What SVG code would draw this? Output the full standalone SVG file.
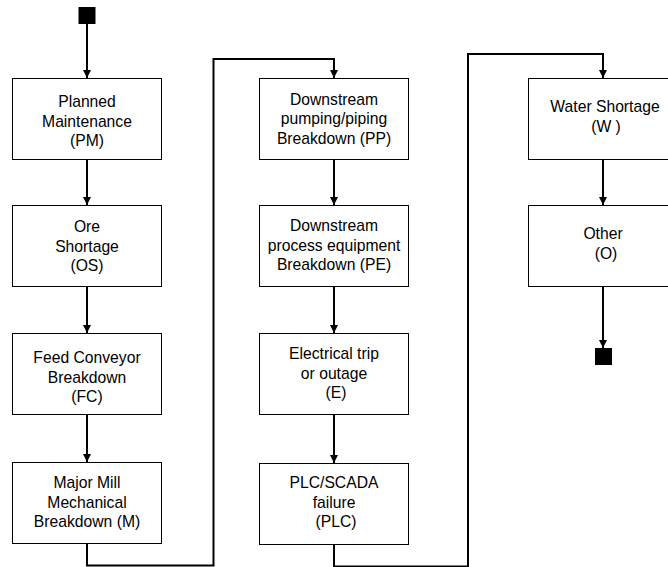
<svg xmlns="http://www.w3.org/2000/svg" width="668" height="567" viewBox="0 0 668 567">
<defs>
<style>
.box{fill:#fff;stroke:#000;stroke-width:1}
.t{font-family:"Liberation Sans",Arial,sans-serif;font-size:15.7px;fill:#000;text-anchor:middle}
.c{fill:none;stroke:#000;stroke-width:2}
</style>
<marker id="ah" viewBox="0 0 8 8" refX="8" refY="4" markerWidth="8" markerHeight="8" markerUnits="userSpaceOnUse" orient="auto">
<path d="M0,0 L8,4 L0,8 Z" fill="#000"/>
</marker>
</defs>
<rect width="668" height="567" fill="#fff"/>
<g id="connectors">
<rect x="78.5" y="7" width="17" height="17" fill="#000"/>
<line class="c" x1="87" y1="24" x2="87" y2="78" marker-end="url(#ah)"/>
<line class="c" x1="87" y1="159" x2="87" y2="205" marker-end="url(#ah)"/>
<line class="c" x1="87" y1="286" x2="87" y2="333" marker-end="url(#ah)"/>
<line class="c" x1="87" y1="414" x2="87" y2="462" marker-end="url(#ah)"/>
<polyline class="c" points="87,543 87,565.5 213.5,565.5 213.5,59 334,59 334,78" marker-end="url(#ah)"/>
<line class="c" x1="334" y1="159" x2="334" y2="205" marker-end="url(#ah)"/>
<line class="c" x1="334" y1="286" x2="334" y2="333" marker-end="url(#ah)"/>
<line class="c" x1="334" y1="414" x2="334" y2="463" marker-end="url(#ah)"/>
<polyline class="c" points="334,544 334,566.5 468,566.5 468,54 603,54 603,78" marker-end="url(#ah)"/>
<line class="c" x1="603" y1="159" x2="603" y2="205" marker-end="url(#ah)"/>
<line class="c" x1="603" y1="286" x2="603" y2="348" marker-end="url(#ah)"/>
<rect x="595" y="348" width="17" height="17" fill="#000"/>
</g>
<g id="PM"><rect class="box" x="12.5" y="78.5" width="149" height="81"/>
<text class="t" x="87" y="107">Planned</text><text class="t" x="87" y="126.5">Maintenance</text><text class="t" x="87" y="146">(PM)</text></g>
<g id="OS"><rect class="box" x="12.5" y="205.5" width="149" height="81"/>
<text class="t" x="87" y="232">Ore</text><text class="t" x="87" y="251.5">Shortage</text><text class="t" x="87" y="271">(OS)</text></g>
<g id="FC"><rect class="box" x="12.5" y="333.5" width="149" height="81"/>
<text class="t" x="87" y="363">Feed Conveyor</text><text class="t" x="87" y="382.5">Breakdown</text><text class="t" x="87" y="402">(FC)</text></g>
<g id="M"><rect class="box" x="12.5" y="462.5" width="149" height="81"/>
<text class="t" x="87" y="488">Major Mill</text><text class="t" x="87" y="507.5">Mechanical</text><text class="t" x="87" y="527">Breakdown (M)</text></g>
<g id="PP"><rect class="box" x="259.5" y="78.5" width="149" height="81"/>
<text class="t" x="334" y="104.5">Downstream</text><text class="t" x="334" y="124">pumping/piping</text><text class="t" x="334" y="143.5">Breakdown (PP)</text></g>
<g id="PE"><rect class="box" x="259.5" y="205.5" width="149" height="81"/>
<text class="t" x="334" y="231">Downstream</text><text class="t" x="334" y="250.5">process equipment</text><text class="t" x="334" y="270">Breakdown (PE)</text></g>
<g id="E"><rect class="box" x="259.5" y="333.5" width="149" height="81"/>
<text class="t" x="334" y="359">Electrical trip</text><text class="t" x="334" y="378.5">or outage</text><text class="t" x="336" y="398">(E)</text></g>
<g id="PLC"><rect class="box" x="259.5" y="463.5" width="149" height="81"/>
<text class="t" x="334" y="488">PLC/SCADA</text><text class="t" x="334" y="507.5">failure</text><text class="t" x="336" y="527">(PLC)</text></g>
<g id="W"><rect class="box" x="528.5" y="78.5" width="149" height="81"/>
<text class="t" x="605" y="112">Water Shortage</text><text class="t" x="606" y="132">(W )</text></g>
<g id="O"><rect class="box" x="528.5" y="205.5" width="149" height="81"/>
<text class="t" x="603" y="239">Other</text><text class="t" x="606" y="259">(O)</text></g>
</svg>
